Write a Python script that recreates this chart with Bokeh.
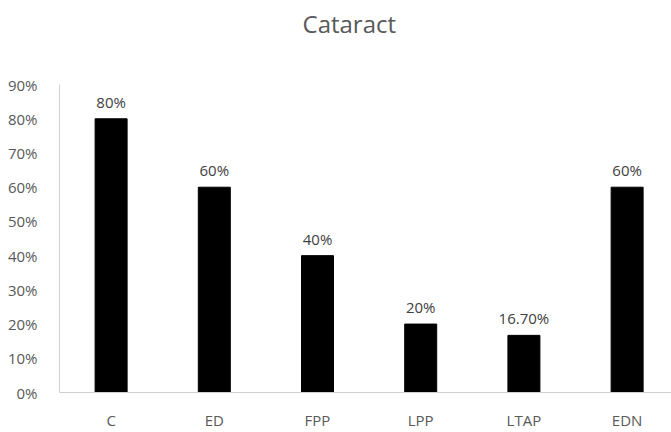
from bokeh.plotting import figure
from bokeh.models import ColumnDataSource, Range1d, FixedTicker, NumeralTickFormatter, Label
from bokeh.core.properties import value
from bokeh.embed import file_html
from bokeh.resources import INLINE

title_text = "Cataract"
categories = ["C", "ED", "FPP", "LPP", "LTAP", "EDN"]
values = [0.80, 0.60, 0.40, 0.20, 0.167, 0.60]
value_labels = ["80%", "60%", "40%", "20%", "16.70%", "60%"]
y_ticks = [0.0, 0.1, 0.2, 0.3, 0.4, 0.5, 0.6, 0.7, 0.8, 0.9]

xpos = list(range(len(categories)))
src = ColumnDataSource(dict(x=xpos, top=values, lab=value_labels))

FONT = "Open Sans"
# plot area: 401 px tall for 0 .. 1.1457 (35 px per 10 %), axis drawn only over 0 .. 90 %
p = figure(width=671, height=432, output_backend="svg", toolbar_location=None,
           x_range=Range1d(-0.5, 5.43), y_range=Range1d(0, 401 / 350),
           min_border_left=59, min_border_right=0, min_border_top=0, min_border_bottom=31)
p.outline_line_color = None
p.xgrid.visible = False
p.ygrid.visible = False

p.vbar(x="x", top="top", width=0.31, source=src, fill_color="black", line_color="black")
p.text(x="x", y="top", text="lab", source=src, text_align="center", text_baseline="bottom",
       y_offset=-7, text_font=value(FONT), text_font_size="15px", text_color="#404040")

# chart title above the 90 % line
p.add_layout(Label(x=2.308, y=(401 - 24) / 350, text=title_text,
                   text_align="center", text_baseline="middle", text_font=FONT,
                   text_font_size="24px", text_color="#595959"))

xa = p.xaxis[0]
xa.ticker = FixedTicker(ticks=xpos)
xa.major_label_overrides = {i: c for i, c in enumerate(categories)}
xa.major_tick_line_color = None
xa.minor_tick_line_color = None
xa.axis_line_color = "#d0d0d0"
xa.major_label_standoff = 11
xa.major_label_text_font = FONT
xa.major_label_text_font_size = "15px"
xa.major_label_text_color = "#595959"

ya = p.yaxis[0]
ya.ticker = FixedTicker(ticks=y_ticks)
ya.bounds = (0, 0.9)
ya.formatter = NumeralTickFormatter(format="0%")
ya.major_tick_line_color = None
ya.minor_tick_line_color = None
ya.axis_line_color = "#d0d0d0"
ya.major_label_standoff = 16
ya.major_label_text_font = FONT
ya.major_label_text_font_size = "15px"
ya.major_label_text_color = "#595959"

open("out.html", "w").write(file_html(p, INLINE))
